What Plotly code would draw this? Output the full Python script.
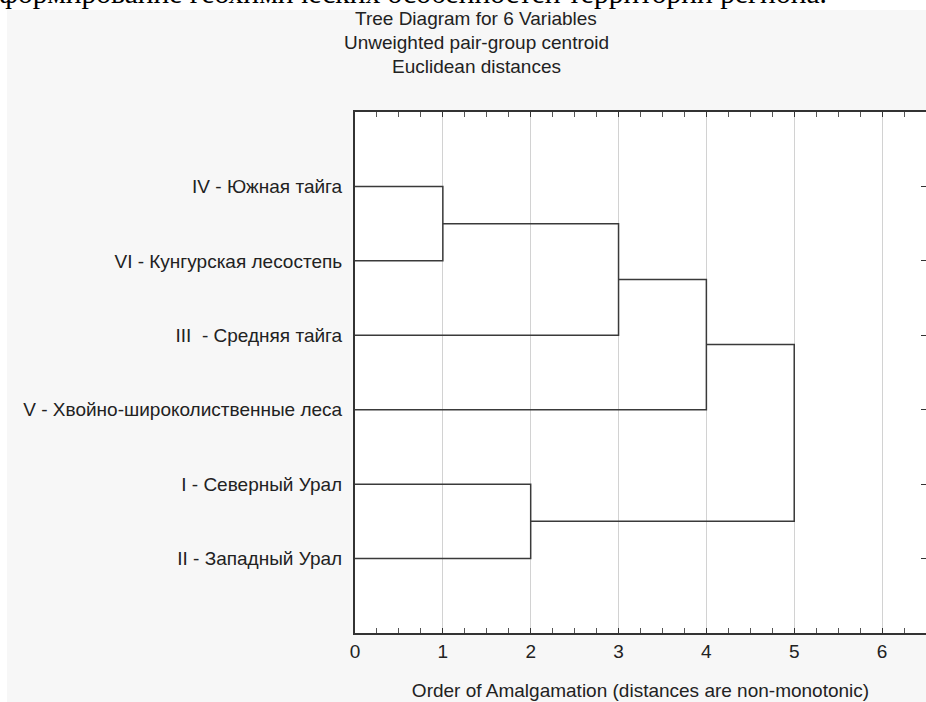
import plotly.graph_objects as go

# ---- data ----
leaf_labels = ["IV - Южная тайга", "VI - Кунгурская лесостепь", "III  - Средняя тайга",
               "V - Хвойно-широколиственные леса", "I - Северный Урал", "II - Западный Урал"]
# merges: (child_a, child_b, amalgamation level); leaves 0..5, new clusters 6..
merge_a = [0, 6, 7, 4, 8]
merge_b = [1, 2, 3, 5, 9]
merge_level = [1, 3, 4, 2, 5]
x_ticks = [0, 1, 2, 3, 4, 5, 6]

title_lines = ["Tree Diagram for 6 Variables", "Unweighted pair-group centroid", "Euclidean distances"]
x_title = "Order of Amalgamation (distances are non-monotonic)"
doc_text = "формирование геохимических особенностей территории региона."

# ---- build dendrogram segments ----
pos_y = {i: i + 1 for i in range(len(leaf_labels))}
pos_x = {i: 0 for i in range(len(leaf_labels))}
xs, ys = [], []
cid = len(leaf_labels)
for k in range(len(merge_a)):
    a, b, h = merge_a[k], merge_b[k], merge_level[k]
    xs += [pos_x[a], h, h, pos_x[b], None]
    ys += [pos_y[a], pos_y[a], pos_y[b], pos_y[b], None]
    pos_y[cid] = (pos_y[a] + pos_y[b]) / 2
    pos_x[cid] = h
    cid += 1

W, H = 926, 702
L, R, T, B = 355, 0, 112, 69
pw, ph = W - L - R, H - T - B

def fx(px):
    return (px - L) / pw

def fy(py):
    return 1 - (py - T) / ph

FS = 19
fig = go.Figure()
fig.add_trace(go.Scatter(x=xs, y=ys, mode="lines",
                         line=dict(color="#3a3a3a", width=1.5),
                         hoverinfo="skip", showlegend=False))
fig.add_trace(go.Scatter(x=[None], y=[None], yaxis="y2", showlegend=False, hoverinfo="skip"))

font = dict(family="Arial, Liberation Sans, sans-serif", size=FS, color="#222222")

fig.update_layout(
    width=W, height=H,
    margin=dict(l=L, r=R, t=T, b=B, pad=0),
    paper_bgcolor="#f7f7f7",
    plot_bgcolor="white",
    font=font,
    xaxis=dict(range=[0, 6.5], tickvals=x_ticks, ticktext=[str(v) for v in x_ticks],
               showgrid=True, gridcolor="#d2d2d2", gridwidth=1, zeroline=False,
               showline=True, linecolor="#333333", linewidth=2, mirror="allticks",
               ticks="inside", ticklen=5, tickcolor="#333333",
               minor=dict(ticks="inside", dtick=0.25, ticklen=3, tickcolor="#555555", showgrid=False),
               title=dict(text=x_title, font=dict(size=FS), standoff=23),
               tickfont=dict(size=FS)),
    yaxis=dict(range=[7, 0], tickvals=list(range(1, 7)), ticktext=leaf_labels,
               showgrid=False, zeroline=False, showline=True, linecolor="#333333",
               linewidth=2, ticks="", ticklabelstandoff=7, tickfont=dict(size=FS)),
    yaxis2=dict(range=[7, 0], overlaying="y", side="right", tickvals=list(range(1, 7)),
                showticklabels=False, ticks="inside", ticklen=5, tickcolor="#333333",
                showgrid=False, zeroline=False, showline=False),
)

shapes = [
    dict(type="rect", xref="paper", yref="paper", x0=fx(0), x1=fx(7), y0=fy(H), y1=fy(0),
         fillcolor="white", line=dict(width=0), layer="below"),
    dict(type="rect", xref="paper", yref="paper", x0=fx(0), x1=fx(W), y0=fy(10), y1=fy(0),
         fillcolor="white", line=dict(width=0), layer="below"),
]
fig.update_layout(shapes=shapes)

ann = []
for i, t in enumerate(title_lines):
    ann.append(dict(text=t, xref="paper", yref="paper", x=fx(476), y=fy(18.5 + 24 * i),
                    xanchor="center", yanchor="middle", showarrow=False, font=dict(size=FS),
                    borderpad=0))
ann.append(dict(text=doc_text, xref="paper", yref="paper", x=fx(-2), y=fy(10.5),
                xanchor="left", yanchor="bottom", showarrow=False, borderpad=0,
                font=dict(family="Liberation Serif, Times New Roman, serif", size=29.5, color="black")))
fig.update_layout(annotations=ann)

fig.write_html("out.html", config={"displayModeBar": False},
               post_script="document.body.style.margin='0';document.body.style.overflow='hidden';")
